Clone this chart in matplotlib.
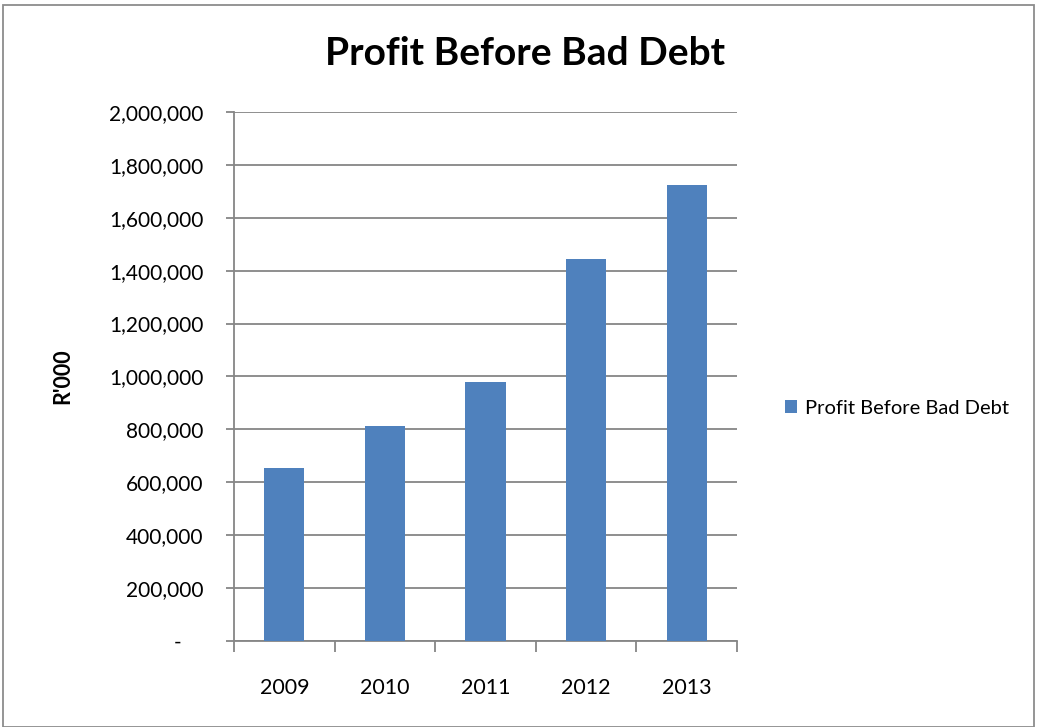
import matplotlib.pyplot as plt
from matplotlib.patches import Rectangle
from matplotlib.ticker import FuncFormatter, FixedLocator

plt.rcParams['font.family'] = ['Lato', 'DejaVu Sans']

years = ['2009', '2010', '2011', '2012', '2013']
profit = [655000, 813000, 978000, 1443000, 1724000]

bar_color = '#4f81bd'
line_color = '#868686'

fig = plt.figure(figsize=(10.37, 7.27), dpi=100)
ax = fig.add_axes([0.2257, 0.1183, 0.485, 0.7277])

x = range(len(years))
ax.bar(x, profit, width=0.4, color=bar_color, label='Profit Before Bad Debt', zorder=3)

ax.set_xlim(-0.5, len(years) - 0.5)
ax.set_ylim(0, 2000000)
ax.set_yticks(range(0, 2000001, 200000))
# accounting style: zero shown as a dash
ax.yaxis.set_major_formatter(FuncFormatter(lambda v, p: '-    ' if v == 0 else f'{int(v):,}'))
ax.grid(axis='y', color=line_color, linewidth=1.3, zorder=0)

# category labels centred, tick marks on the boundaries
ax.set_xticks(list(x))
ax.set_xticklabels(years)
ax.tick_params(axis='x', length=0, pad=27, labelsize=15.5)
ax.xaxis.set_minor_locator(FixedLocator([i - 0.5 for i in range(len(years) + 1)]))
ax.tick_params(axis='x', which='minor', length=8, color=line_color, width=1.3)
ax.tick_params(axis='y', length=6, color=line_color, width=1.3, labelsize=15, pad=16)
for lbl in ax.get_yticklabels():
    lbl.set_horizontalalignment('right')

for side in ['top', 'right']:
    ax.spines[side].set_visible(False)
for side in ['left', 'bottom']:
    ax.spines[side].set_color(line_color)
    ax.spines[side].set_linewidth(1.3)

ax.set_ylabel("R'000", fontsize=15.5, fontweight='bold', labelpad=26)

fig.text(0.506, 0.926, 'Profit Before Bad Debt', fontsize=28, fontweight='bold',
         ha='center', va='center')

ax.legend(loc='center left', bbox_to_anchor=(1.06, 0.44), frameon=False,
          fontsize=14.5, handlelength=0.6, handleheight=0.6, handletextpad=0.4)

fig.patches.append(Rectangle((0.003, 0.0), 0.994, 0.993, transform=fig.transFigure,
                             fill=False, edgecolor='#8c8c8c', linewidth=1.3))

fig.savefig('out.png', dpi=100)
